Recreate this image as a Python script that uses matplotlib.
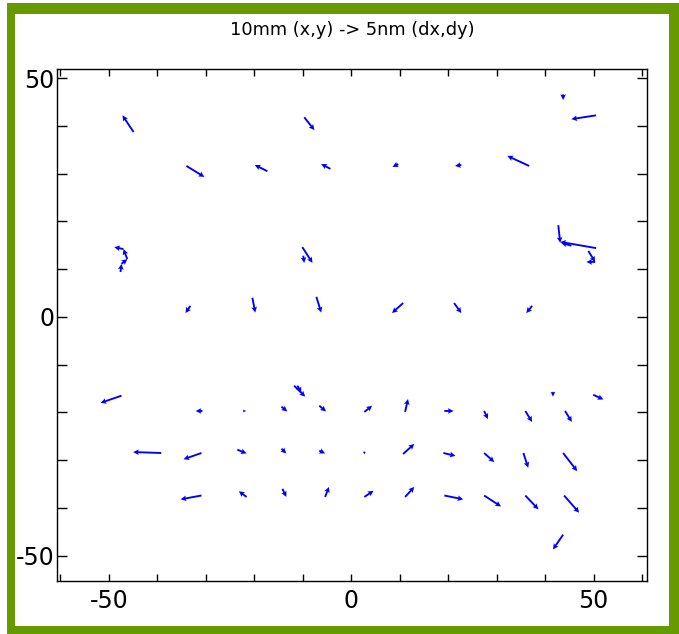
import matplotlib
matplotlib.use("Agg")
import matplotlib.pyplot as plt
from matplotlib.patches import Rectangle
from matplotlib.ticker import FixedLocator, MultipleLocator

plt.rcParams['axes.unicode_minus'] = False

# Tail positions (mm) and displacement vectors (plot units) for each arrow
x = [-44.9, -9.7, 43.7, 50.5,
     -34.0, -17.3, -4.3, 9.7, 22.7, 36.7,
     -47.6, -47.4, -46.2, -47.0, -10.1, -9.9,
     42.7, 50.5, 48.9, 50.3, 45.4,
     -33.2, -20.4, -7.2, 10.7, 21.2, 37.3,
     -47.4, -30.7, -22.3, -14.4, -6.6, -11.8, -11.1,
     -39.2, -30.9, -23.5, -14.4, -6.6,
     -30.9, -21.6, -14.2, -5.4,
     2.7, 11.1, 19.2, 27.4, 35.9, 44.1, 41.6, 49.9,
     2.7, 10.7, 19.0, 27.4, 35.5, 43.7,
     2.7, 11.1, 19.2, 27.4, 35.9, 43.9, 43.7]
y = [38.7, 41.8, 46.6, 42.2,
     31.6, 30.5, 31.0, 32.0, 31.8, 31.6,
     9.4, 11.1, 12.1, 14.2, 14.6, 12.8,
     19.2, 14.4, 13.8, 11.5, 14.9,
     2.3, 4.0, 4.2, 2.9, 2.9, 2.3,
     -16.5, -19.7, -19.7, -18.8, -18.6, -14.4, -14.4,
     -28.5, -28.5, -27.8, -27.6, -28.0,
     -37.4, -37.7, -36.0, -37.7,
     -19.9, -19.9, -19.7, -19.7, -19.7, -19.7, -15.7, -16.3,
     -28.2, -28.7, -28.5, -28.5, -28.5, -28.5,
     -37.7, -37.7, -37.4, -37.4, -37.4, -37.4, -45.6]
dx = [-2.3, 2.1, 0.0, -5.1,
      3.7, -2.6, -1.9, -1.2, -1.3, -4.5,
      0.2, 1.2, -0.8, -1.9, 2.1, 0.2,
      0.4, -7.4, 1.4, -1.8, -2.1,
      -1.0, 0.6, 1.0, -2.3, 1.5, -1.2,
      -4.3, -1.4, 0.6, 1.2, 1.4, 2.3, 0.8,
      -5.8, -3.7, 1.9, 1.0, 1.2,
      -4.3, -1.6, 0.8, 0.8,
      1.6, 0.6, 1.9, 0.8, 1.4, 1.4, 0.0, 2.1,
      0.0, 2.3, 2.5, 2.1, 1.0, 2.9,
      1.9, 1.9, 3.9, 3.5, 2.7, 3.1, -2.1]
dy = [3.5, -2.7, -1.2, -0.8,
      -2.3, 1.3, 1.0, -0.6, -0.2, 2.1,
      1.7, 1.0, 2.1, 0.4, -3.3, -1.5,
      -3.7, 1.3, -2.3, 0.0, 0.6,
      -1.5, -3.1, -3.3, -2.1, -2.1, -1.5,
      -1.5, 0.0, 0.0, -1.0, -1.2, -2.3, -1.5,
      0.2, -1.3, -0.8, -1.0, -0.6,
      -0.8, 1.2, -1.7, 2.1,
      1.3, 2.7, 0.0, -1.7, -2.3, -2.3, -1.0, -1.0,
      -0.6, 2.1, -0.6, -1.9, -3.1, -3.8,
      1.3, 2.1, -0.8, -2.3, -2.9, -3.6, -3.1]

W, H = 679, 634
fig = plt.figure(figsize=(W / 100, H / 100), dpi=100)
fig.patch.set_facecolor('white')

# green frame around the figure, given in pixels from the top-left corner
green = '#669a00'
for left, top, width, height in [(7, 3, 672, 11), (7, 3, 8, 631),
                                 (669, 3, 10, 631), (7, 626, 672, 8)]:
    fig.patches.append(Rectangle((left / W, 1 - (top + height) / H), width / W, height / H,
                                 transform=fig.transFigure, facecolor=green,
                                 edgecolor='none', zorder=0))

ax = fig.add_axes([57 / W, 53 / H, 590 / W, 512 / H])
ax.quiver(x, y, dx, dy, angles='xy', scale_units='xy', scale=1,
          color='#0000ff', width=0.0032, headwidth=3, headlength=3,
          headaxislength=2.6)

ax.set_xlim(-60.7, 61.0)
ax.set_ylim(-55.3, 51.9)
ax.xaxis.set_major_locator(FixedLocator([-50, 0, 50]))
ax.yaxis.set_major_locator(FixedLocator([-50, 0, 50]))
ax.xaxis.set_minor_locator(MultipleLocator(10))
ax.yaxis.set_minor_locator(MultipleLocator(10))
ax.tick_params(axis='both', which='both', direction='in', top=True, right=True,
               width=1, color='black')
ax.tick_params(axis='x', which='both', length=5, pad=6, labelsize=17)
ax.tick_params(axis='y', which='both', length=7, pad=2, labelsize=17)
for s in ax.spines.values():
    s.set_linewidth(1.0)

fig.text(352 / W, 1 - 30 / H, '10mm (x,y) -> 5nm (dx,dy)', fontsize=12.8,
         ha='center', va='center')

fig.savefig('out.png', dpi=100)
